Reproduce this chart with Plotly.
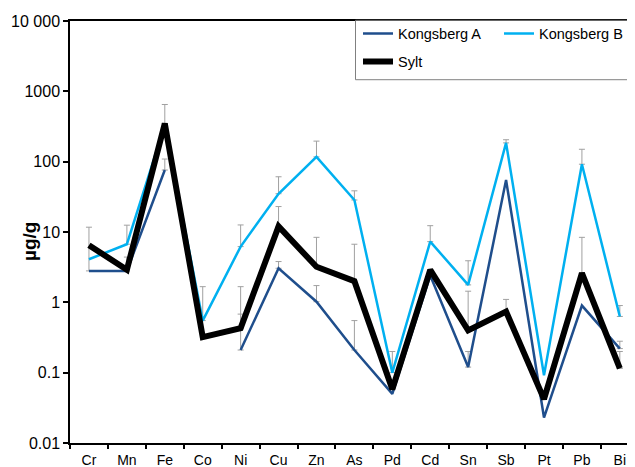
import plotly.graph_objects as go

elements = ["Cr", "Mn", "Fe", "Co", "Ni", "Cu", "Zn", "As", "Pd", "Cd", "Sn", "Sb", "Pt", "Pb", "Bi"]

kongsberg_a = [2.8, 2.8, 76, None, 0.21, 3.05, 1.02, 0.21, 0.05, 2.4, 0.12, 55, 0.023, 0.9, 0.22]
kongsberg_a_upper = [11.7, 4.4, 109, None, 0.68, 3.8, 1.73, 0.55, None, None, 0.2, None, None, None, 0.28]

kongsberg_b = [4.1, 6.7, 330, 0.55, 6.2, 35, 117, 28.5, 0.1, 7.3, 1.77, 185, 0.092, 92, 0.63]
kongsberg_b_upper = [None, 12.5, None, 1.67, 12.6, 61, 196, 38.5, 0.2, 12.3, 3.9, 205, None, 150, 0.9]

sylt = [6.5, 2.9, 350, 0.32, 0.43, 12, 3.2, 2.0, 0.058, 2.9, 0.4, 0.74, 0.042, 2.6, 0.115]
sylt_upper = [None, None, 650, None, 1.67, 23, 8.4, 6.7, None, None, 1.44, 1.1, None, 8.4, 0.2]

y_tickvals = [0.01, 0.1, 1, 10, 100, 1000, 10000]
y_ticktext = ["0.01", "0.1", "1", "10", "100", "1000", "10 000"]

# the page body adds an 8 px offset, so the figure is laid out in reference pixels minus 8
OFF = 8
W, H = 635 - OFF, 467 - OFF
ML, MR, MT = 70 - OFF, 0, 20.7 - OFF
MB = H - (443.3 - OFF)
PW, PH = W - ML - MR, H - MT - MB


def px_x(p):
    return (p - OFF - ML) / PW


def px_y(p):
    return 1 - (p - OFF - MT) / PH


fig = go.Figure()

ERR_COLOR = "#a0a0a0"
# error bars first so they sit beneath the lines
for vals, upper in [(kongsberg_a, kongsberg_a_upper), (kongsberg_b, kongsberg_b_upper), (sylt, sylt_upper)]:
    ys = [v if (u is not None and v is not None) else None for v, u in zip(vals, upper)]
    plus = [(u - v) if (u is not None and v is not None) else 0 for v, u in zip(vals, upper)]
    fig.add_trace(go.Scatter(
        x=elements, y=ys, mode="markers",
        marker=dict(size=1, opacity=0),
        error_y=dict(type="data", array=plus, arrayminus=[0] * len(plus), symmetric=False,
                     color=ERR_COLOR, thickness=1, width=3),
        showlegend=False, hoverinfo="skip",
    ))

fig.add_trace(go.Scatter(x=elements, y=kongsberg_a, mode="lines", name="Kongsberg A",
                         line=dict(color="#1F4E8C", width=2.5), legend="legend"))
fig.add_trace(go.Scatter(x=elements, y=kongsberg_b, mode="lines", name="Kongsberg B",
                         line=dict(color="#00B0F0", width=2.5), legend="legend"))
fig.add_trace(go.Scatter(x=elements, y=sylt, mode="lines", name="Sylt",
                         line=dict(color="#000000", width=6), legend="legend2"))

font_family = "Liberation Sans, Arial, sans-serif"

fig.update_layout(
    width=W, height=H,
    margin=dict(l=ML, r=MR, t=MT, b=MB, autoexpand=False),
    paper_bgcolor="white", plot_bgcolor="white",
    font=dict(family=font_family, size=14, color="#000"),
    xaxis=dict(
        type="category", range=[-0.5, 14.4],
        showline=True, linecolor="#000", linewidth=1.5, mirror=True,
        ticks="outside", tickson="boundaries", ticklen=4, tickwidth=1.5, tickcolor="#000",
        showgrid=False, zeroline=False, ticklabelstandoff=3,
        tickfont=dict(size=14, color="#000"),
    ),
    yaxis=dict(
        type="log", range=[-2, 4],
        tickvals=y_tickvals, ticktext=y_ticktext,
        showline=True, linecolor="#000", linewidth=1.5,
        ticks="outside", ticklen=5, tickwidth=1.5, tickcolor="#000",
        showgrid=False, zeroline=False,
        tickfont=dict(size=16, color="#000"),
    ),
    legend=dict(
        orientation="h", x=px_x(358), y=px_y(17.3), xanchor="left", yanchor="top",
        entrywidth=96, entrywidthmode="pixels",
        bgcolor="rgba(0,0,0,0)", borderwidth=0,
        font=dict(size=14.5, color="#000"),
    ),
    legend2=dict(
        orientation="h", x=px_x(358), y=px_y(45.3), xanchor="left", yanchor="top",
        bgcolor="rgba(0,0,0,0)", borderwidth=0,
        font=dict(size=14.5, color="#000"),
    ),
    shapes=[
        dict(type="rect", xref="paper", yref="paper",
             x0=px_x(355.5), x1=px_x(634.5), y0=px_y(20), y1=px_y(79.5),
             line=dict(color="#808080", width=1), fillcolor="rgba(0,0,0,0)", layer="above"),
    ],
    annotations=[
        dict(text="<b>µg/g</b>", xref="paper", yref="paper", x=px_x(30), y=px_y(242),
             textangle=-90, showarrow=False, font=dict(size=19, color="#000"),
             xanchor="center", yanchor="middle"),
    ],
)

fig.write_html("out.html")
